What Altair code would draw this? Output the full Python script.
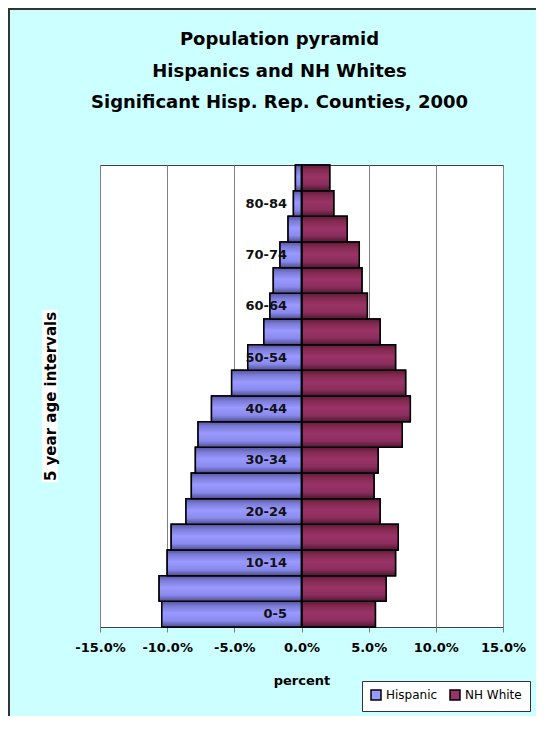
import altair as alt
import pandas as pd

# ---- data ----
ages = ["0-5", "5-9", "10-14", "15-19", "20-24", "25-29", "30-34", "35-39", "40-44",
        "45-49", "50-54", "55-59", "60-64", "65-69", "70-74", "75-79", "80-84", "85+"]
hispanic = [10.4, 10.6, 10.0, 9.7, 8.6, 8.2, 7.9, 7.7, 6.7,
            5.2, 4.0, 2.8, 2.35, 2.1, 1.6, 1.0, 0.6, 0.45]
nh_white = [5.5, 6.3, 7.0, 7.2, 5.85, 5.4, 5.7, 7.5, 8.1,
            7.75, 7.0, 5.85, 4.9, 4.5, 4.3, 3.4, 2.4, 2.1]
series_names = ["Hispanic", "NH White"]
series_colors = ["#9999FF", "#993366"]
shown_ages = ["0-5", "10-14", "20-24", "30-34", "40-44", "50-54", "60-64", "70-74", "80-84"]
x_ticks = [-0.15, -0.10, -0.05, 0.0, 0.05, 0.10, 0.15]
title_lines = ["Population pyramid", "Hispanics and NH Whites",
               "Significant Hisp. Rep. Counties, 2000"]

rows = []
for a, h, w in zip(ages, hispanic, nh_white):
    rows.append({"age": a, "series": series_names[0], "value": -h / 100.0, "base": 0.0})
    rows.append({"age": a, "series": series_names[1], "value": w / 100.0, "base": 0.0})
df = pd.DataFrame(rows)

W, H = 403, 462
PADL, PADT = 92, 157
TOTW, TOTH = 528, 708
FONT = "DejaVu Sans"

x_enc = alt.X(
    "value:Q",
    stack=None,
    scale=alt.Scale(domain=[-0.15, 0.15], nice=False, zero=False),
    axis=alt.Axis(
        values=x_ticks,
        labelExpr="(datum.value < 0 ? '-' : '') + format(abs(datum.value), '.1%')",
        labelOverlap=False, labelFlush=False,
        grid=True, gridColor="#808080", gridWidth=1,
        ticks=True, tickSize=5, tickColor="#808080", tickWidth=1,
        domain=False,
        labelFont=FONT, labelFontSize=13, labelFontWeight="bold", labelColor="black",
        labelPadding=9,
        title="percent", titleFont=FONT, titleFontSize=13, titleFontWeight="bold",
        titleColor="black", titlePadding=20,
        zindex=0,
    ),
)
x2_enc = alt.X2("base:Q")

y_enc = alt.Y(
    "age:N",
    sort=ages[::-1],
    scale=alt.Scale(paddingInner=0, paddingOuter=0),
    axis=alt.Axis(
        values=shown_ages,
        labelOverlap=False,
        offset=-W / 2,
        ticks=False, tickSize=0,
        domain=True, domainColor="black", domainWidth=1.5,
        grid=False,
        labelFont=FONT, labelFontSize=13, labelFontWeight="bold", labelColor="#111111",
        labelPadding=15,
        title="5 year age intervals", titleFont=FONT, titleFontSize=15,
        titleFontWeight="bold", titleColor="black",
        titleX=-(W / 2) - (PADL - 42), titleY=H / 2, titleAngle=270,
        titleAlign="center", titleBaseline="middle",
        zindex=1,
    ),
)

color_enc = alt.Color(
    "series:N",
    scale=alt.Scale(domain=series_names, range=series_colors),
    legend=alt.Legend(
        title=None, orient="none", legendX=262, legendY=516, direction="horizontal",
        fillColor="white", strokeColor="#333333", padding=8,
        symbolType="square", symbolSize=100, symbolStrokeColor="black",
        symbolStrokeWidth=1.5, symbolOpacity=1,
        labelFont=FONT, labelFontSize=12, labelColor="black", labelOffset=4,
        columnPadding=9,
    ),
)

base_bars = alt.Chart(df).mark_bar(stroke="black", strokeWidth=1.5).encode(
    x=x_enc, x2=x2_enc, y=y_enc, color=color_enc
)

hisp_grad = alt.Gradient(
    gradient="linear", x1=0, y1=0, x2=0, y2=1,
    stops=[
        alt.GradientStop(offset=0.0, color="#55559a"),
        alt.GradientStop(offset=0.18, color="#7a7ad6"),
        alt.GradientStop(offset=0.45, color="#9999ff"),
        alt.GradientStop(offset=0.75, color="#8a8aee"),
        alt.GradientStop(offset=1.0, color="#4e4e90"),
    ],
)
nhw_grad = alt.Gradient(
    gradient="linear", x1=0, y1=0, x2=0, y2=1,
    stops=[
        alt.GradientStop(offset=0.0, color="#5a1b3a"),
        alt.GradientStop(offset=0.18, color="#82294f"),
        alt.GradientStop(offset=0.45, color="#993366"),
        alt.GradientStop(offset=0.75, color="#8c2e5d"),
        alt.GradientStop(offset=1.0, color="#4f1733"),
    ],
)

hisp_bars = alt.Chart(df).transform_filter(
    alt.datum.series == series_names[0]
).mark_bar(fill=hisp_grad, stroke="black", strokeWidth=1.5).encode(x=x_enc, x2=x2_enc, y=y_enc)

nhw_bars = alt.Chart(df).transform_filter(
    alt.datum.series == series_names[1]
).mark_bar(fill=nhw_grad, stroke="black", strokeWidth=1.5).encode(x=x_enc, x2=x2_enc, y=y_enc)

one = alt.Data(values=[{"k": 1}])
frame = alt.Chart(one).mark_rect(filled=False, stroke="#333333", strokeWidth=2).encode(
    x=alt.value(-PADL + 1), x2=alt.value(453),
    y=alt.value(-PADT + 1), y2=alt.value(600),
)
ytitle_box = alt.Chart(one).mark_rect(color="white").encode(
    x=alt.value(-58), x2=alt.value(-42),
    y=alt.value(145), y2=alt.value(317),
)

chart = alt.layer(frame, ytitle_box, base_bars, hisp_bars, nhw_bars).properties(
    width=W, height=H,
    autosize=alt.AutoSizeParams(type="none"),
    padding={"left": PADL, "top": PADT, "right": TOTW - PADL - W, "bottom": TOTH - PADT - H},
    background="#CCFFFF",
    title=alt.TitleParams(
        text=title_lines, anchor="middle", font=FONT, fontSize=18, fontWeight="bold",
        color="black", lineHeight=31.5, offset=-104, dx=-22,
    ),
).configure_view(
    fill="white", stroke="#404040", strokeWidth=1
)

chart.save("out.html", embed_options={"renderer": "svg", "actions": False})
